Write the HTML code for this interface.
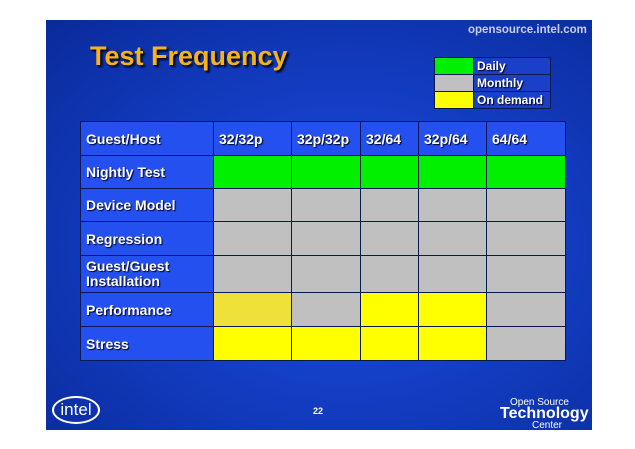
<!DOCTYPE html>
<html><head><style>
body{margin:0;width:635px;height:449px;background:#fff;position:relative;overflow:hidden;font-family:"Liberation Sans",Arial,sans-serif}
#slide{position:absolute;left:46px;top:20px;width:546px;height:410px;background:radial-gradient(ellipse at 55% 55%,#1f55e8 0%,#1440c8 40%,#0a2a9a 100%)}
.t{position:absolute;font-weight:bold;color:#fff}
table{position:absolute;left:80px;top:121px;border-collapse:collapse}
td{border:1px solid #0a1a50;padding:0 0 0 5px;font-weight:bold;color:#fff;font-size:14px;text-shadow:1px 1px 1px #002;}
td.l{background:#2350ee}
.lg{position:absolute;left:434px;top:57px;border-collapse:collapse}
.lg td{font-size:12px;height:16px;background:#1a3fc8;padding:0 3px}
td.g,.lg td.g{background:#00f000}td.s,.lg td.s{background:#c0c0c0}td.y,.lg td.y{background:#ffff00}td.p{background:#f0e03a}
</style></head><body>
<div id="slide"></div>
<div class="t" style="left:468px;top:24px;font-size:11.5px;color:#c8d0e8">opensource.intel.com</div>
<div class="t" style="left:90px;top:41px;font-size:27px;color:#f6b21a;text-shadow:2px 2px 2px #001">Test Frequency</div>
<table class="lg">
<tr><td class="g" style="width:32px"></td><td style="width:70px">Daily</td></tr>
<tr><td class="s"></td><td>Monthly</td></tr>
<tr><td class="y"></td><td>On demand</td></tr>
</table>
<table>
<tr style="height:34px"><td class="l" style="width:127px">Guest/Host</td><td class="l" style="width:72px">32/32p</td><td class="l" style="width:63px">32p/32p</td><td class="l" style="width:52px">32/64</td><td class="l" style="width:62px">32p/64</td><td class="l" style="width:73px">64/64</td></tr>
<tr style="height:33px"><td class="l">Nightly Test</td><td class="g"></td><td class="g"></td><td class="g"></td><td class="g"></td><td class="g"></td></tr>
<tr style="height:33px"><td class="l">Device Model</td><td class="s"></td><td class="s"></td><td class="s"></td><td class="s"></td><td class="s"></td></tr>
<tr style="height:34px"><td class="l">Regression</td><td class="s"></td><td class="s"></td><td class="s"></td><td class="s"></td><td class="s"></td></tr>
<tr style="height:37px"><td class="l" style="line-height:15px">Guest/Guest<br>Installation</td><td class="s"></td><td class="s"></td><td class="s"></td><td class="s"></td><td class="s"></td></tr>
<tr style="height:34px"><td class="l">Performance</td><td class="p"></td><td class="s"></td><td class="y"></td><td class="y"></td><td class="s"></td></tr>
<tr style="height:34px"><td class="l">Stress</td><td class="y"></td><td class="y"></td><td class="y"></td><td class="y"></td><td class="s"></td></tr>
</table>
<div class="t" style="left:52px;top:396px;width:44px;height:24px;border:2px solid #fff;border-radius:50%;font-size:17px;text-align:center;line-height:24px;font-weight:normal">intel</div>
<div class="t" style="left:313px;top:406px;font-size:9px">22</div>
<div class="t" style="left:510px;top:397px;font-size:10px;font-weight:normal">Open Source</div>
<div class="t" style="left:500px;top:405px;font-size:16px">Technology</div>
<div class="t" style="left:532px;top:420px;font-size:10px;font-weight:normal">Center</div>
</body></html>
